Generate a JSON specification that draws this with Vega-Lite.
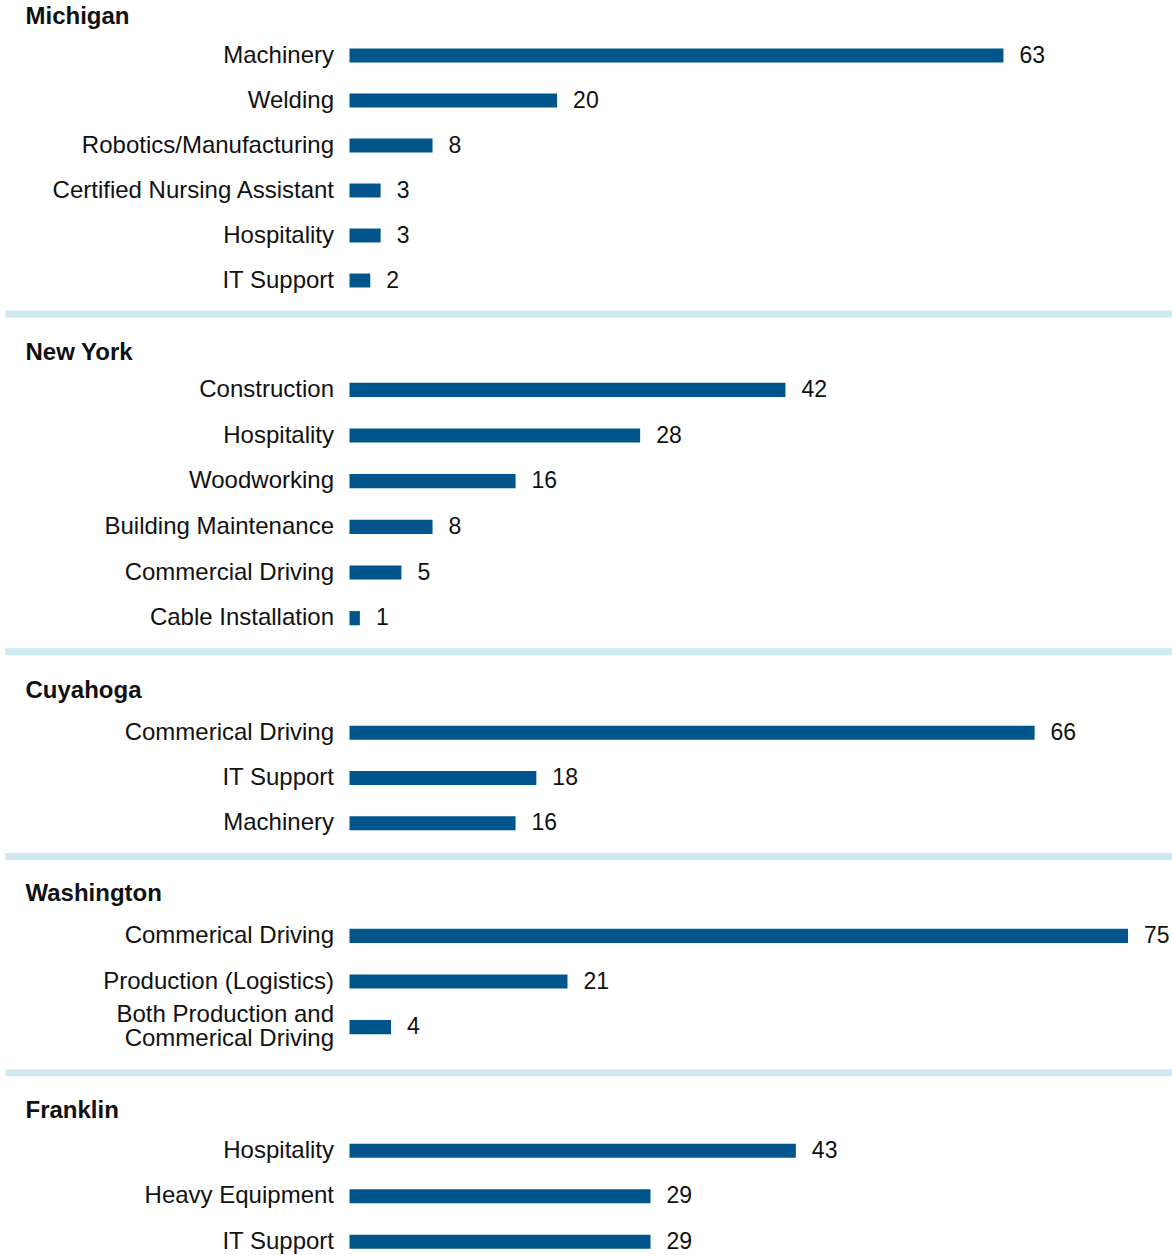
{
  "$schema": "https://vega.github.io/schema/vega-lite/v6.json",
  "padding": {"left": 1.5, "top": 4, "right": 0, "bottom": 5},
  "config": {
    "font": "Liberation Sans",
    "view": {"stroke": null},
    "title": {"anchor": "start", "frame": "group", "dx": -324, "fontSize": 24, "fontWeight": "bold", "color": "#111111", "offset": 3.5, "font": "Liberation Sans"},
    "axisY": {"title": null, "domain": false, "ticks": false, "grid": false, "labelPadding": 16, "labelFontSize": 24, "labelColor": "#111111", "labelFont": "Liberation Sans", "labelLimit": 500, "labelLineHeight": 24, "labelExpr": "split(datum.label, '\\n')"}
  },
  "data": {"values": [
    {"region": "Michigan", "category": "Machinery", "value": 63},
    {"region": "Michigan", "category": "Welding", "value": 20},
    {"region": "Michigan", "category": "Robotics/Manufacturing", "value": 8},
    {"region": "Michigan", "category": "Certified Nursing Assistant", "value": 3},
    {"region": "Michigan", "category": "Hospitality", "value": 3},
    {"region": "Michigan", "category": "IT Support", "value": 2},
    {"region": "New York", "category": "Construction", "value": 42},
    {"region": "New York", "category": "Hospitality", "value": 28},
    {"region": "New York", "category": "Woodworking", "value": 16},
    {"region": "New York", "category": "Building Maintenance", "value": 8},
    {"region": "New York", "category": "Commercial Driving", "value": 5},
    {"region": "New York", "category": "Cable Installation", "value": 1},
    {"region": "Cuyahoga", "category": "Commerical Driving", "value": 66},
    {"region": "Cuyahoga", "category": "IT Support", "value": 18},
    {"region": "Cuyahoga", "category": "Machinery", "value": 16},
    {"region": "Washington", "category": "Commerical Driving", "value": 75},
    {"region": "Washington", "category": "Production (Logistics)", "value": 21},
    {"region": "Washington", "category": "Both Production and\nCommerical Driving", "value": 4},
    {"region": "Franklin", "category": "Hospitality", "value": 43},
    {"region": "Franklin", "category": "Heavy Equipment", "value": 29},
    {"region": "Franklin", "category": "IT Support", "value": 29}
  ]},
  "spacing": 22,
  "vconcat": [
    {
      "spacing": 7.5,
      "vconcat": [
        {
          "title": {"text": "Michigan", "offset": 4.5},
          "width": 778.5, "height": 270,
          "transform": [{"filter": "datum.region === 'Michigan'"}],
          "encoding": {
            "y": {"field": "category", "type": "nominal", "sort": null, "scale": {"paddingInner": 0.69, "paddingOuter": 0.345}},
            "x": {"field": "value", "type": "quantitative", "scale": {"domain": [0, 75], "nice": false}, "axis": null}
          },
          "layer": [
            {"mark": {"type": "bar", "color": "#00568a"}},
            {"mark": {"type": "text", "align": "left", "dx": 16, "fontSize": 23, "color": "#111111"}, "encoding": {"text": {"field": "value", "type": "quantitative"}}}
          ]
        },
        {
          "data": {"values": [{"sep": 1}]},
          "width": 778.5, "height": 7,
          "mark": {"type": "rule", "color": "#cfe9f0", "strokeWidth": 7},
          "encoding": {
            "x": {"datum": -33.14, "type": "quantitative", "scale": {"domain": [0, 75], "nice": false}, "axis": null},
            "x2": {"datum": 79.29}
          }
        }
      ]
    },
    {
      "spacing": 7.3,
      "vconcat": [
        {
          "title": {"text": "New York", "offset": 2.5},
          "width": 778.5, "height": 274,
          "transform": [{"filter": "datum.region === 'New York'"}],
          "encoding": {
            "y": {"field": "category", "type": "nominal", "sort": null, "scale": {"paddingInner": 0.69, "paddingOuter": 0.345}},
            "x": {"field": "value", "type": "quantitative", "scale": {"domain": [0, 75], "nice": false}, "axis": null}
          },
          "layer": [
            {"mark": {"type": "bar", "color": "#00568a"}},
            {"mark": {"type": "text", "align": "left", "dx": 16, "fontSize": 23, "color": "#111111"}, "encoding": {"text": {"field": "value", "type": "quantitative"}}}
          ]
        },
        {
          "data": {"values": [{"sep": 1}]},
          "width": 778.5, "height": 7,
          "mark": {"type": "rule", "color": "#cfe9f0", "strokeWidth": 7},
          "encoding": {
            "x": {"datum": -33.14, "type": "quantitative", "scale": {"domain": [0, 75], "nice": false}, "axis": null},
            "x2": {"datum": 79.29}
          }
        }
      ]
    },
    {
      "spacing": 7,
      "vconcat": [
        {
          "title": {"text": "Cuyahoga", "offset": 7.5},
          "width": 778.5, "height": 136,
          "transform": [{"filter": "datum.region === 'Cuyahoga'"}],
          "encoding": {
            "y": {"field": "category", "type": "nominal", "sort": null, "scale": {"paddingInner": 0.69, "paddingOuter": 0.345}},
            "x": {"field": "value", "type": "quantitative", "scale": {"domain": [0, 75], "nice": false}, "axis": null}
          },
          "layer": [
            {"mark": {"type": "bar", "color": "#00568a"}},
            {"mark": {"type": "text", "align": "left", "dx": 16, "fontSize": 23, "color": "#111111"}, "encoding": {"text": {"field": "value", "type": "quantitative"}}}
          ]
        },
        {
          "data": {"values": [{"sep": 1}]},
          "width": 778.5, "height": 7,
          "mark": {"type": "rule", "color": "#cfe9f0", "strokeWidth": 7},
          "encoding": {
            "x": {"datum": -33.14, "type": "quantitative", "scale": {"domain": [0, 75], "nice": false}, "axis": null},
            "x2": {"datum": 79.29}
          }
        }
      ]
    },
    {
      "spacing": 18.3,
      "vconcat": [
        {
          "title": {"text": "Washington", "offset": 6.7},
          "width": 778.5, "height": 137,
          "transform": [{"filter": "datum.region === 'Washington'"}],
          "encoding": {
            "y": {"field": "category", "type": "nominal", "sort": null, "scale": {"paddingInner": 0.69, "paddingOuter": 0.345},
              "axis": {"labelOffset": {"condition": {"test": "indexof(datum.value, '\\n') >= 0", "value": -12}, "value": 0}}},
            "x": {"field": "value", "type": "quantitative", "scale": {"domain": [0, 75], "nice": false}, "axis": null}
          },
          "layer": [
            {"mark": {"type": "bar", "color": "#00568a"}},
            {"mark": {"type": "text", "align": "left", "dx": 16, "fontSize": 23, "color": "#111111"}, "encoding": {"text": {"field": "value", "type": "quantitative"}}}
          ]
        },
        {
          "data": {"values": [{"sep": 1}]},
          "width": 778.5, "height": 7,
          "mark": {"type": "rule", "color": "#cfe9f0", "strokeWidth": 7},
          "encoding": {
            "x": {"datum": -33.14, "type": "quantitative", "scale": {"domain": [0, 75], "nice": false}, "axis": null},
            "x2": {"datum": 79.29}
          }
        }
      ]
    },
    {
      "title": {"text": "Franklin", "offset": 5},
      "width": 778.5, "height": 120.8,
      "transform": [{"filter": "datum.region === 'Franklin'"}],
      "encoding": {
        "y": {"field": "category", "type": "nominal", "sort": null, "scale": {"paddingInner": 0.69, "paddingOuter": 0.1725, "align": 1}},
        "x": {"field": "value", "type": "quantitative", "scale": {"domain": [0, 75], "nice": false}, "axis": null}
      },
      "layer": [
        {"mark": {"type": "bar", "color": "#00568a"}},
        {"mark": {"type": "text", "align": "left", "dx": 16, "fontSize": 23, "color": "#111111"}, "encoding": {"text": {"field": "value", "type": "quantitative"}}}
      ]
    }
  ]
}
